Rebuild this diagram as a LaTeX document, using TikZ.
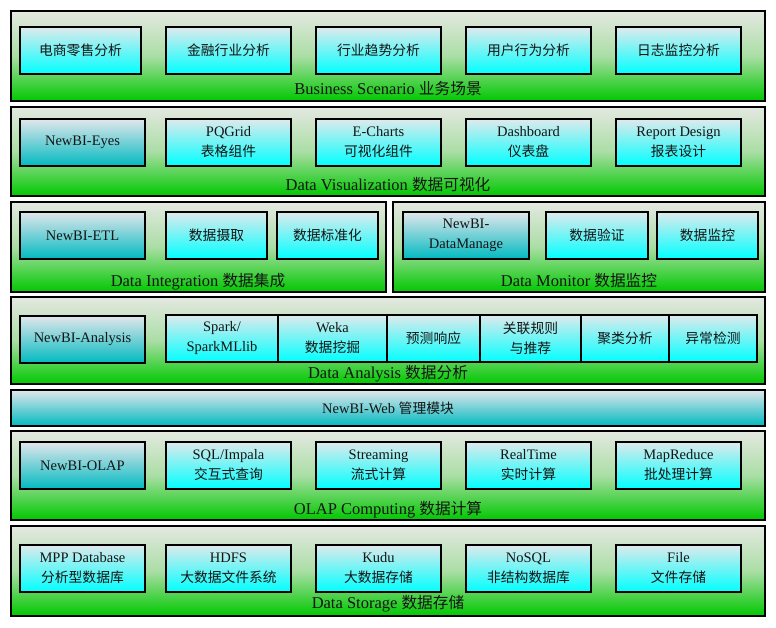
\documentclass[tikz,border=0pt]{standalone}
\usepackage{fontspec}
\setmainfont{Liberation Serif}
\newfontfamily\cjk[Scale=0.95]{Noto Sans CJK SC}
\newcommand\zh[1]{{\cjk #1}}
\definecolor{gtop}{RGB}{228,232,225}
\definecolor{gmid}{RGB}{170,222,165}
\definecolor{gbot}{RGB}{0,200,0}
\definecolor{ctop}{RGB}{222,234,236}
\definecolor{cbot}{RGB}{0,255,255}
\definecolor{ttop}{RGB}{226,230,235}
\definecolor{tbot}{RGB}{0,186,192}
\definecolor{ink}{RGB}{20,20,20}
\tikzset{
  layer/.style={draw=black, line width=2.6pt, top color=gtop, bottom color=gbot, middle color=gmid, inner sep=0pt, outer sep=0pt},
  cbox/.style={draw=black, line width=2.2pt, top color=ctop, bottom color=cbot, inner sep=0pt, outer sep=0pt, align=center, text=ink},
  tbox/.style={draw=black, line width=2.2pt, top color=ttop, bottom color=tbot, inner sep=0pt, outer sep=0pt, align=center, text=ink},
  lbl/.style={inner sep=0pt, text height=1.6ex, text depth=.3ex, font=\fontsize{16.5}{20}\selectfont, text=ink},
}
\newcommand\R[7]{\node[#6, minimum width={#4pt-#2pt}, minimum height={#5pt-#3pt}] (#1) at ({(#2+#4)/2},{(#3+#5)/2}) {#7};}
\begin{document}
\begin{tikzpicture}[x=1pt,y=-1pt,font=\fontsize{14.5}{20}\selectfont]
\useasboundingbox[fill=white] (0,0) rectangle (776,627);
% Layer 1
\R{L1}{11}{11}{765}{101}{layer}{}
\R{a1}{20}{27}{141}{74}{cbox}{\zh{电商零售分析}}
\R{a2}{166}{27}{291}{74}{cbox}{\zh{金融行业分析}}
\R{a3}{316}{27}{441}{74}{cbox}{\zh{行业趋势分析}}
\R{a4}{466}{27}{591}{74}{cbox}{\zh{用户行为分析}}
\R{a5}{616}{27}{741}{74}{cbox}{\zh{日志监控分析}}
\node[lbl] (l1) at (388,92) {Business Scenario \zh{业务场景}};
% Layer 2
\R{L2}{11}{107}{765}{196}{layer}{}
\R{b1}{20}{119}{145}{166}{tbox}{NewBI-Eyes}
\R{b2}{166}{119}{291}{166}{cbox}{PQGrid\\\zh{表格组件}}
\R{b3}{316}{119}{441}{166}{cbox}{E-Charts\\\zh{可视化组件}}
\R{b4}{466}{119}{591}{166}{cbox}{Dashboard\\\zh{仪表盘}}
\R{b5}{616}{119}{741}{166}{cbox}{Report Design\\\zh{报表设计}}
\node[lbl] (l2) at (388,188) {Data Visualization \zh{数据可视化}};
% Layer 3
\R{L3a}{11}{202}{386}{292}{layer}{}
\R{c1}{20}{212}{145}{259}{tbox}{NewBI-ETL}
\R{c2}{166}{212}{267}{259}{cbox}{\zh{数据摄取}}
\R{c3}{277}{212}{378}{259}{cbox}{\zh{数据标准化}}
\node[lbl] (l3a) at (198,284) {Data Integration \zh{数据集成}};
\R{L3b}{393}{202}{765}{292}{layer}{}
\R{d1}{403}{212}{529}{259}{tbox}{NewBI-\\DataManage}
\R{d2}{546}{212}{648}{259}{cbox}{\zh{数据验证}}
\R{d3}{657}{212}{758}{259}{cbox}{\zh{数据监控}}
\node[lbl] (l3b) at (579,284) {Data Monitor \zh{数据监控}};
% Layer 4
\R{L4}{11}{297}{765}{384}{layer}{}
\R{e1}{20}{316}{145}{363}{tbox}{NewBI-Analysis}
\R{e2}{166}{315}{278}{362}{cbox}{Spark/\\SparkMLlib}
\R{e3}{278}{315}{387}{362}{cbox}{Weka\\\zh{数据挖掘}}
\R{e4}{387}{315}{480}{362}{cbox}{\zh{预测响应}}
\R{e5}{480}{315}{581}{362}{cbox}{\zh{关联规则}\\\zh{与推荐}}
\R{e6}{581}{315}{669}{362}{cbox}{\zh{聚类分析}}
\R{e7}{669}{315}{757}{362}{cbox}{\zh{异常检测}}
\node[lbl] (l4) at (388,376) {Data Analysis \zh{数据分析}};
% Web
\R{W}{11}{390}{765}{426}{tbox}{NewBI-Web \zh{管理模块}}
% Layer 5
\R{L5}{11}{431}{765}{520}{layer}{}
\R{f1}{20}{442}{145}{489}{tbox}{NewBI-OLAP}
\R{f2}{166}{442}{291}{489}{cbox}{SQL/Impala\\\zh{交互式查询}}
\R{f3}{316}{442}{441}{489}{cbox}{Streaming\\\zh{流式计算}}
\R{f4}{466}{442}{591}{489}{cbox}{RealTime\\\zh{实时计算}}
\R{f5}{616}{442}{741}{489}{cbox}{MapReduce\\\zh{批处理计算}}
\node[lbl] (l5) at (388,512) {OLAP Computing \zh{数据计算}};
% Layer 6
\R{L6}{11}{526}{765}{616}{layer}{}
\R{g1}{20}{545}{145}{592}{cbox}{MPP Database\\\zh{分析型数据库}}
\R{g2}{166}{545}{291}{592}{cbox}{HDFS\\\zh{大数据文件系统}}
\R{g3}{316}{545}{441}{592}{cbox}{Kudu\\\zh{大数据存储}}
\R{g4}{466}{545}{591}{592}{cbox}{NoSQL\\\zh{非结构数据库}}
\R{g5}{616}{545}{741}{592}{cbox}{File\\\zh{文件存储}}
\node[lbl] (l6) at (388,606) {Data Storage \zh{数据存储}};
\end{tikzpicture}
\end{document}
